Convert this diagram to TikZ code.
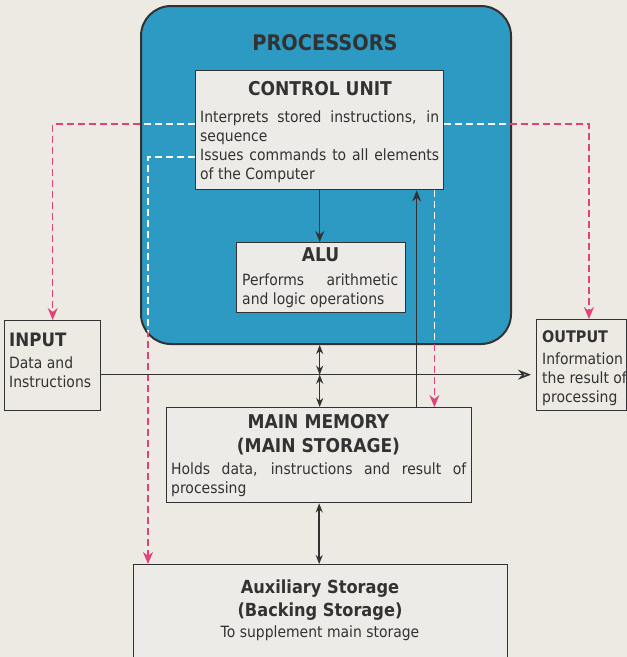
\documentclass[tikz,border=0pt]{standalone}
\usepackage{fontspec}
\setmainfont{DejaVu Sans}[FakeStretch=0.9]
\usetikzlibrary{arrows.meta}
\definecolor{paper}{RGB}{237,234,228}
\definecolor{procblue}{RGB}{44,154,194}
\definecolor{boxfill}{RGB}{236,235,232}
\definecolor{ink}{RGB}{50,50,50}
\definecolor{pinkline}{RGB}{226,66,122}
\begin{document}
\begin{tikzpicture}[x=1pt,y=-1pt,
  box/.style={draw=ink, line width=1.4pt, fill=boxfill, inner sep=0pt, anchor=north west},
  ttl/.style={font=\fontsize{19}{21}\selectfont\bfseries, text=ink, inner sep=0pt, anchor=base},
  bodytext/.style={font=\fontsize{15.5}{19}\selectfont, text=ink, inner sep=0pt, align=left, anchor=base west},
  arr/.style={draw=ink, line width=1.5pt, -{Stealth[length=11pt,width=9pt]}},
  dbl/.style={draw=ink, line width=1.5pt, {Stealth[length=9pt,width=7pt]}-{Stealth[length=9pt,width=7pt]}},
  pinkdash/.style={draw=pinkline, line width=1.3pt, dash pattern=on 7pt off 4pt, -{Stealth[length=12pt,width=10pt]}},
  whitedash/.style={draw=white, line width=1.3pt, dash pattern=on 7pt off 4pt}
]
\fill[paper] (0,0) rectangle (627,657);
\useasboundingbox (0,0) rectangle (627,657);
\clip (0,0) rectangle (627,657);

% processor block
\node[draw=ink, line width=2pt, fill=procblue, rounded corners=30pt, minimum width=370pt, minimum height=338pt, anchor=north west, inner sep=0pt] (proc) at (140,5) {};
\node[font=\fontsize{21.5}{24}\selectfont\bfseries, text=ink, inner sep=0pt, anchor=base] (proct) at (325,50) {PROCESSORS};

% boxes
\node[box, minimum width=248pt, minimum height=119pt] (cu) at (195,70) {};
\node[box, minimum width=169pt, minimum height=70pt] (alu) at (236,242) {};
\node[box, fill=paper, minimum width=96pt, minimum height=90pt] (inp) at (4,320) {};
\node[box, fill=paper, minimum width=89.5pt, minimum height=91pt] (out) at (536,319) {};
\node[box, minimum width=305pt, minimum height=95pt] (mm) at (166,407) {};
\node[box, minimum width=374pt, minimum height=110pt] (aux) at (133,564) {};

% pink dashed control lines
\draw[pinkdash] ([yshift=-54pt]cu.north west) -| (inp.north);
\draw[pinkdash] ([yshift=-54pt]cu.north east) -| ([xshift=7.5pt]out.north);
\draw[pinkdash] ([yshift=-87pt]cu.north west) -| ([xshift=15pt]aux.north west);
\draw[pinkdash] ([xshift=-10pt]cu.south east) -- ([xshift=-10pt]cu.south east |- mm.north);
\begin{scope}
  \clip[rounded corners=29pt] (141,6) rectangle (509,342);
  \draw[whitedash] ([yshift=-54pt]cu.north west) -| (inp.north);
  \draw[whitedash] ([yshift=-54pt]cu.north east) -| ([xshift=7.5pt]out.north);
  \draw[whitedash] ([yshift=-87pt]cu.north west) -| ([xshift=15pt]aux.north west);
  \draw[whitedash] ([xshift=-10pt]cu.south east) -- ([xshift=-10pt]cu.south east |- mm.north);
\end{scope}

% black connectors
\draw[arr] (cu.south) -- (cu.south |- alu.north);
\coordinate (upb) at ([xshift=97.5pt]mm.north);
\draw[arr] (upb) -- (upb |- cu.south);
\coordinate (hs) at ([yshift=-9pt]inp.east);
\draw[draw=ink, line width=1.5pt, -{Stealth[length=13pt,width=10pt,fill=gray!60]}] (hs) -- ([xshift=-5pt]hs -| out.west);
\coordinate (hj) at (cu.south |- hs);
\draw[dbl] (hj |- proc.south) -- (hj);
\draw[dbl] (hj) -- (hj |- mm.north);
\draw[dbl] (mm.south) -- (mm.south |- aux.north);

% texts (multi-line nodes anchored at the baseline of their last line)
\node[ttl] (cut) at (320,95) {CONTROL UNIT};
\node[bodytext] (cub) at (200,179.5) {\makebox[239pt][s]{Interprets stored instructions, in}\\sequence\\\makebox[239pt][s]{Issues commands to all elements}\\of the Computer};
\node[ttl] (alut) at (320.5,261) {ALU};
\node[bodytext] (alub) at (242,304) {\makebox[156pt][s]{Performs arithmetic}\\and logic operations};
\node[ttl, anchor=base west, font=\fontsize{18.5}{20}\selectfont\bfseries] (inpt) at (9,346) {INPUT};
\node[bodytext] (inpb) at (9,387) {Data and\\Instructions};
\node[ttl, anchor=base west, font=\fontsize{16}{20}\selectfont\bfseries] (outt) at (542,342) {OUTPUT};
\node[bodytext] (outb) at (542,402) {Information\\the result of\\processing};
\node[ttl] (mmt1) at (318.5,428) {MAIN MEMORY};
\node[ttl] (mmt2) at (318.5,452) {(MAIN STORAGE)};
\node[bodytext] (mmb) at (171,493) {\makebox[295pt][s]{Holds data, instructions and result of}\\processing};
\node[ttl, font=\fontsize{18}{20}\selectfont\bfseries] (auxt1) at (320,593) {Auxiliary Storage};
\node[ttl, font=\fontsize{18}{20}\selectfont\bfseries] (auxt2) at (320,616) {(Backing Storage)};
\node[bodytext, anchor=base] (auxb) at (320,637) {To supplement main storage};
\end{tikzpicture}
\end{document}
